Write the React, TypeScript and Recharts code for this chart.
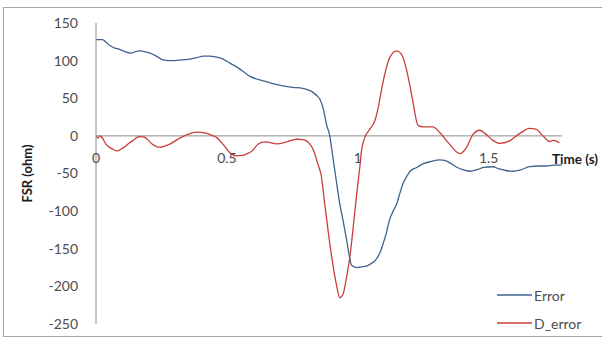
import React from 'react';
import { LineChart, Line, XAxis, YAxis, ReferenceLine, ReferenceDot, Legend } from 'recharts';

// Sampled time stamps (s) and values (ohm) for each series
const errorTime = [
  0, 0.025, 0.04, 0.053, 0.07, 0.09, 0.11, 0.136, 0.15, 0.168, 0.19, 0.206, 0.23, 0.256, 0.28, 0.3,
  0.33, 0.36, 0.385, 0.41, 0.435, 0.455, 0.486, 0.51, 0.54, 0.565, 0.588, 0.62, 0.65, 0.68, 0.714,
  0.75, 0.79, 0.81, 0.83, 0.845, 0.855, 0.867, 0.875, 0.88, 0.893, 0.905, 0.916, 0.93, 0.945, 0.957,
  0.968, 0.976, 0.995, 1.015, 1.033, 1.05, 1.07, 1.085, 1.096, 1.11, 1.12, 1.135, 1.148, 1.16, 1.172,
  1.185, 1.2, 1.225, 1.25, 1.28, 1.313, 1.335, 1.35, 1.375, 1.4, 1.43, 1.455, 1.48, 1.516, 1.54,
  1.565, 1.59, 1.62, 1.656, 1.695, 1.72, 1.75, 1.78,
];
const errorValues = [
  128, 128, 124, 120, 117, 115, 112, 110, 112, 113, 111.5, 110, 106, 101, 100, 100,
  101, 102, 104, 106, 106, 105, 102, 97, 91, 85, 79, 75, 72, 69, 66.5,
  64.5, 63, 61, 57.5, 53, 48.7, 37.6, 25, 16, 0, -29, -55, -88, -115, -138,
  -160, -172, -175, -174, -173, -170, -164, -155, -144, -128, -113, -100, -91, -77, -64,
  -55, -47, -42, -37, -34, -32, -33, -35.5, -41, -45, -47, -45, -42, -41, -44,
  -46, -47, -45.5, -41, -40, -40, -39, -39,
];

const dErrorTime = [
  0, 0.008, 0.015, 0.02, 0.04, 0.06, 0.079, 0.104, 0.125, 0.142, 0.16, 0.175, 0.187, 0.2, 0.212,
  0.244, 0.282, 0.32, 0.36, 0.384, 0.42, 0.44, 0.46, 0.485, 0.51, 0.537, 0.56, 0.575, 0.6, 0.613,
  0.63, 0.65, 0.69, 0.728, 0.766, 0.79, 0.805, 0.817, 0.828, 0.836, 0.848, 0.86, 0.874, 0.895,
  0.918, 0.931, 0.944, 0.957, 0.97, 0.985, 0.995, 1.008, 1.014, 1.027, 1.046, 1.065, 1.078, 1.09,
  1.103, 1.122, 1.148, 1.167, 1.186, 1.2, 1.21, 1.23, 1.25, 1.287, 1.313, 1.35, 1.39, 1.415, 1.44,
  1.466, 1.49, 1.516, 1.542, 1.58, 1.618, 1.656, 1.68, 1.707, 1.733, 1.745, 1.77,
];
const dErrorValues = [
  0, -3, 0, -1, -12, -17, -20, -16, -10, -6, -1.5, -1, -2, -6, -10,
  -15, -11, -3, 3, 5, 3.5, 1, -2, -11, -22, -26.5, -26, -24, -19, -13,
  -9, -8, -10.5, -8, -4.5, -5, -7, -11, -17, -24, -38, -52, -91, -148,
  -197, -215, -210, -188, -160, -113, -80, -40, -20, -2, 9, 20, 37.6, 60,
  82, 104, 113, 108.5, 88, 65, 46.5, 14, 12, 12, 4.4, -11, -23.5, -15.5, 2,
  7.5, 2, -6, -10, -6.6, 3, 10, 9, 0, -7.5, -6, -9,
];

const seriesNames = ['Error', 'D_error'];
const yTicks = [-250, -200, -150, -100, -50, 0, 50, 100, 150];
const xTickValues = [0, 0.5, 1, 1.5];

const errorData = errorTime.map((t, i) => ({ t, value: errorValues[i] }));
const dErrorData = dErrorTime.map((t, i) => ({ t, value: dErrorValues[i] }));

const FONT = 'Lato, "Open Sans", sans-serif';
const AXIS_GRAY = '#8c8c8c';
const TEXT_GRAY = '#4d4d4d';
const BLUE = '#3F6391';
const RED = '#C93E3B';

const LegendContent = (props: any) => {
  const payload = [...(props.payload || [])].sort(
    (a: any, b: any) => seriesNames.indexOf(a.value) - seriesNames.indexOf(b.value),
  );
  return (
    <div style={{ fontFamily: FONT, fontSize: 14, color: TEXT_GRAY }}>
      {payload.map((entry: any) => (
        <div key={entry.value} style={{ display: 'flex', alignItems: 'center', height: 28 }}>
          <svg width={37} height={4} style={{ display: 'block' }}>
            <line x1={0} y1={2} x2={35} y2={2} stroke={entry.color} strokeWidth={1.3} />
          </svg>
          <span>{entry.value}</span>
        </div>
      ))}
    </div>
  );
};

export default function App() {
  return (
    <div
      style={{
        position: 'absolute',
        left: 0,
        top: 0,
        width: 602,
        height: 338,
        overflow: 'hidden',
        background: '#ffffff',
      }}
    >
      <div
        style={{
          position: 'absolute',
          left: 3,
          top: 7,
          width: 640,
          height: 330,
          border: '1px solid #a6a6a6',
          boxSizing: 'border-box',
        }}
      />
      <div style={{ position: 'absolute', left: 0, top: 0 }}>
        <LineChart width={602} height={338} margin={{ top: 23, right: 40, bottom: 14, left: 0 }}>
          <XAxis type="number" dataKey="t" domain={[0, 1.78]} allowDataOverflow hide />
          <YAxis
            type="number"
            width={96}
            domain={[-250, 150]}
            ticks={yTicks}
            interval={0}
            tickLine={false}
            tickSize={0}
            tickMargin={18}
            axisLine={{ stroke: AXIS_GRAY, strokeWidth: 1 }}
            tick={{ fill: TEXT_GRAY, fontSize: 14, fontFamily: FONT }}
            label={{
              content: (p: any) => {
                const vb = p.viewBox;
                const cx = vb.x + 27;
                const cy = vb.y + vb.height / 2;
                return (
                  <text
                    x={cx}
                    y={cy}
                    transform={`rotate(-90 ${cx} ${cy})`}
                    textAnchor="middle"
                    dominantBaseline="central"
                    fontFamily={FONT}
                    fontWeight={700}
                    fontSize={13}
                    fill="#1a1a1a"
                  >
                    FSR (ohm)
                  </text>
                );
              },
            }}
          />
          <ReferenceLine
            y={0}
            stroke={AXIS_GRAY}
            strokeWidth={1}
            label={{
              content: (p: any) => {
                const vb = p.viewBox;
                return (
                  <text
                    x={vb.x + vb.width + 36}
                    y={vb.y + 28}
                    textAnchor="end"
                    fontFamily={FONT}
                    fontWeight={700}
                    fontSize={13.5}
                    fill="#1a1a1a"
                  >
                    Time (s)
                  </text>
                );
              },
            }}
          />
          {xTickValues.map((v) => (
            <ReferenceDot
              key={v}
              x={v}
              y={0}
              r={0}
              fill="none"
              stroke="none"
              label={{
                value: String(v),
                position: 'bottom',
                offset: 17,
                fill: TEXT_GRAY,
                fontSize: 14,
                fontFamily: FONT,
              }}
            />
          ))}
          <Line
            data={errorData}
            dataKey="value"
            name={seriesNames[0]}
            type="monotone"
            stroke={BLUE}
            strokeWidth={1.3}
            dot={false}
            activeDot={false}
            isAnimationActive={false}
          />
          <Line
            data={dErrorData}
            dataKey="value"
            name={seriesNames[1]}
            type="monotone"
            stroke={RED}
            strokeWidth={1.3}
            dot={false}
            activeDot={false}
            isAnimationActive={false}
          />
          <Legend
            layout="vertical"
            align="center"
            verticalAlign="middle"
            wrapperStyle={{ left: 497, top: 281, width: 100 }}
            content={<LegendContent />}
          />
        </LineChart>
      </div>
    </div>
  );
}
